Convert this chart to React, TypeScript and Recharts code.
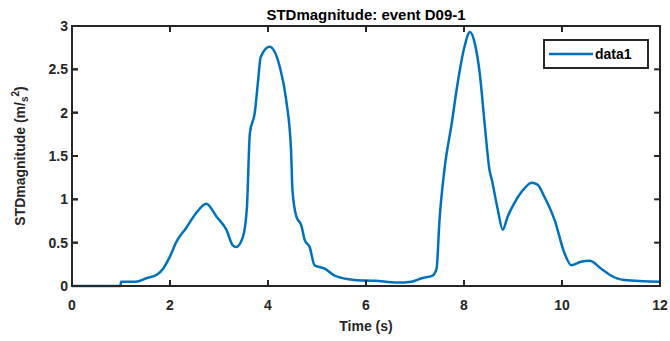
import React from 'react';
import { LineChart, Line, XAxis, YAxis, ReferenceArea, ReferenceLine } from 'recharts';

const timeValues = [
  0, 0.5, 0.99, 1.0, 1.3, 1.52, 1.73, 1.86, 1.99, 2.13, 2.33, 2.53, 2.74, 2.95, 3.15, 3.28, 3.35, 3.49,
  3.57, 3.63, 3.73, 3.8, 3.85, 4.03, 4.24, 4.37, 4.47, 4.5, 4.58, 4.68, 4.75, 4.85, 4.95, 5.16, 5.36,
  5.77, 6.18, 6.64, 6.93, 7.14, 7.36, 7.44, 7.5, 7.6, 7.75, 7.87, 8.01, 8.12, 8.22, 8.32, 8.42, 8.52,
  8.57, 8.69, 8.79, 8.89, 9.03, 9.24, 9.38, 9.5, 9.64, 9.85, 10.05, 10.19, 10.39, 10.56, 10.8, 10.97,
  11.27, 12,
];
const stdValues = [
  0, 0, 0, 0.05, 0.05, 0.09, 0.13, 0.2, 0.33, 0.51, 0.67, 0.84, 0.95, 0.8, 0.65, 0.47, 0.45, 0.57,
  0.91, 1.76, 2.0, 2.38, 2.64, 2.76, 2.53, 2.15, 1.57, 1.1, 0.8, 0.7, 0.53, 0.45, 0.24, 0.2, 0.12,
  0.07, 0.06, 0.04, 0.05, 0.09, 0.12, 0.2, 0.76, 1.34, 1.88, 2.34, 2.76, 2.93, 2.8, 2.46, 1.88, 1.34,
  1.22, 0.88, 0.65, 0.8, 0.96, 1.13, 1.19, 1.17, 1.03, 0.76, 0.38, 0.24, 0.28, 0.29, 0.2, 0.13,
  0.07, 0.05,
];
const xTicks = [0, 2, 4, 6, 8, 10, 12];
const yTicks = [0, 0.5, 1, 1.5, 2, 2.5, 3];
const titleText = 'STDmagnitude: event D09-1';
const xTitle = 'Time (s)';
const seriesName = 'data1';

const data = timeValues.map((t, i) => ({ t, v: stdValues[i] }));

const FONT = '"Liberation Sans", Arial, Helvetica, sans-serif';
const INK = '#262626';
const BLUE = '#0072BD';

// inward tick length in data units (about 6px each way)
const X_TICK_LEN = 0.07;
const Y_TICK_LEN = 0.12;

const tickStyle = { fill: INK, fontSize: 14, fontWeight: 700, fontFamily: FONT };
const lineStyle = { stroke: INK, strokeWidth: 2 };

const textBase: React.CSSProperties = {
  position: 'absolute',
  fontFamily: FONT,
  fontWeight: 700,
  fontSize: 14,
  color: INK,
  whiteSpace: 'nowrap',
  lineHeight: '16px',
};

function LegendBox() {
  return (
    <div
      style={{
        position: 'absolute',
        left: 543,
        top: 39,
        border: `2px solid ${INK}`,
        background: '#fff',
        width: 102,
        height: 26,
        display: 'flex',
        alignItems: 'center',
      }}
    >
      <svg width={50} height={26} style={{ display: 'block' }}>
        <line x1={4} y1={13} x2={48} y2={13} stroke={BLUE} strokeWidth={2.5} />
      </svg>
      <span style={{ fontFamily: FONT, fontWeight: 700, fontSize: 14, color: '#000' }}>{seriesName}</span>
    </div>
  );
}

export default function App() {
  return (
    <div style={{ position: 'absolute', left: 0, top: 0, width: 670, height: 341, background: '#fff' }}>
      <LineChart width={670} height={341} data={data} margin={{ top: 25, right: 9, left: 0, bottom: 0 }}>
        <XAxis
          dataKey="t"
          type="number"
          domain={[0, 12]}
          ticks={xTicks}
          height={55}
          axisLine={lineStyle}
          tickLine={lineStyle}
          tickSize={-6}
          tickMargin={20}
          tick={tickStyle}
        />
        <XAxis
          xAxisId="top"
          orientation="top"
          dataKey="t"
          type="number"
          domain={[0, 12]}
          ticks={xTicks}
          height={1}
          axisLine={lineStyle}
          tickLine={lineStyle}
          tickSize={-6}
          tickFormatter={() => ''}
        />
        <YAxis
          type="number"
          domain={[0, 3]}
          ticks={yTicks}
          width={72}
          axisLine={lineStyle}
          tickLine={lineStyle}
          tickSize={-6}
          tickMargin={10}
          tick={tickStyle}
        />
        <YAxis
          yAxisId="right"
          orientation="right"
          type="number"
          domain={[0, 3]}
          ticks={yTicks}
          width={1}
          axisLine={lineStyle}
          tickLine={lineStyle}
          tickSize={-6}
          tickFormatter={() => ''}
        />
        {/* box frame and inward ticks, in case the axis lines are not painted */}
        <ReferenceArea x1={0} x2={12} y1={0} y2={3} fill="none" stroke={INK} strokeWidth={2} ifOverflow="visible" />
        {xTicks.map((x) => (
          <ReferenceLine key={`b${x}`} segment={[{ x, y: 0 }, { x, y: X_TICK_LEN }]} stroke={INK} strokeWidth={2} />
        ))}
        {xTicks.map((x) => (
          <ReferenceLine key={`t${x}`} segment={[{ x, y: 3 - X_TICK_LEN }, { x, y: 3 }]} stroke={INK} strokeWidth={2} />
        ))}
        {yTicks.map((y) => (
          <ReferenceLine key={`l${y}`} segment={[{ x: 0, y }, { x: Y_TICK_LEN, y }]} stroke={INK} strokeWidth={2} />
        ))}
        {yTicks.map((y) => (
          <ReferenceLine key={`r${y}`} segment={[{ x: 12 - Y_TICK_LEN, y }, { x: 12, y }]} stroke={INK} strokeWidth={2} />
        ))}
        <Line
          dataKey="v"
          name={seriesName}
          type="monotone"
          stroke={BLUE}
          strokeWidth={2.5}
          dot={false}
          isAnimationActive={false}
        />
      </LineChart>
      <div style={{ ...textBase, left: 72, width: 588, top: 7, textAlign: 'center', fontSize: 15, color: '#000' }}>
        {titleText}
      </div>
      <div style={{ ...textBase, left: 72, width: 588, top: 318, textAlign: 'center' }}>{xTitle}</div>
      <div
        style={{
          ...textBase,
          left: 20,
          top: 156,
          transform: 'translate(-50%, -50%) rotate(-90deg)',
        }}
      >
        STDmagnitude (m/<sub style={{ fontSize: 10, verticalAlign: '-3px' }}>s</sub>
        <sup style={{ fontSize: 10, verticalAlign: '6px' }}>2</sup>)
      </div>
      <LegendBox />
    </div>
  );
}
